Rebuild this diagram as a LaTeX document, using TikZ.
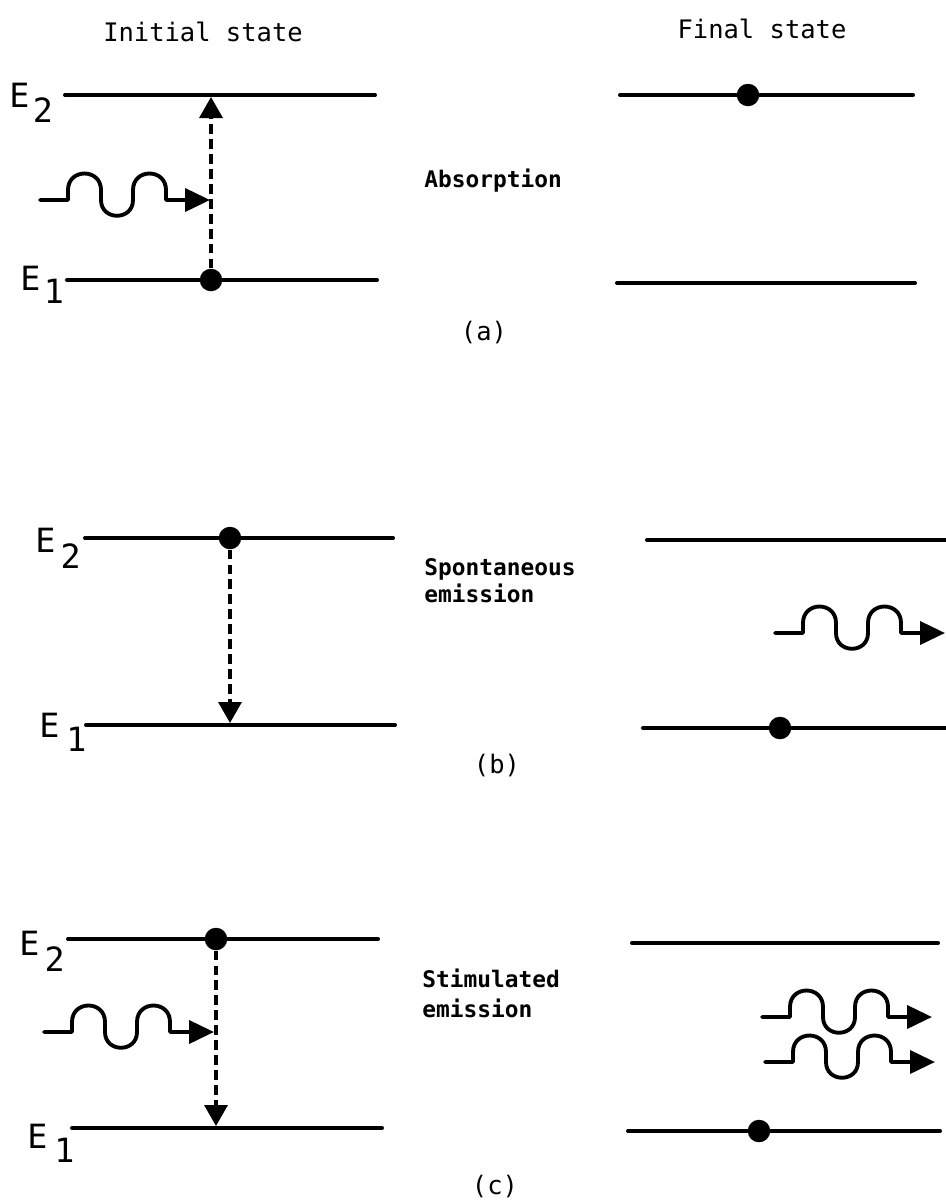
\documentclass[tikz,border=0pt]{standalone}
\usepackage{fontspec}
\newfontfamily\dvmono{DejaVu Sans Mono}
\usetikzlibrary{arrows.meta}
\tikzset{
  level/.style={line width=2.3pt, line cap=round},
  dot/.style={circle, fill=black, inner sep=0pt, minimum size=0.45cm},
  dasharrow/.style={line width=1.9pt, dash pattern=on 5.5pt off 3pt, -{Triangle[length=0.42cm,width=0.46cm]}},
  wave/.style={line width=2.2pt, line join=round, line cap=round, -{Triangle[length=0.5cm,width=0.46cm]}},
  head/.style={font=\dvmono\fontsize{14.5}{17}\selectfont, inner sep=0pt},
  proc/.style={font=\dvmono\bfseries\fontsize{13}{15}\selectfont, inner sep=0pt, align=left},
  tag/.style={font=\dvmono\fontsize{14.5}{17}\selectfont, inner sep=0pt},
  elab/.style={font=\dvmono\fontsize{19}{21}\selectfont, inner sep=0pt, anchor=base west},
  photon/.pic={
    \draw[wave] (0,0) -- (28,0) -- (28,10) .. controls (28,32) and (61,32) .. (61,10) -- (61,0)
      .. controls (61,-21) and (93,-21) .. (93,0) -- (93,10)
      .. controls (93,32) and (126,32) .. (126,10) -- (126,0) -- (170,0);
  }
}
\begin{document}
\begin{tikzpicture}[x=0.02cm, y=0.02cm]
\useasboundingbox[fill=white] (0,0) rectangle (946,-1201);

% headers
\node[head, anchor=base] (hi) at (203,-41) {Initial state};
\node[head, anchor=base] (hf) at (762,-38) {Final state};

% ---------- (a) Absorption ----------
\draw[level] (65,-95) -- (375,-95);
\draw[level] (67,-280) -- (377,-280);
\node[elab] (aE2) at (9,-107) {E\hspace{2pt}\raisebox{-0.45em}{2}};
\node[elab] (aE1) at (20,-290) {E\hspace{2pt}\raisebox{-0.4em}{1}};
\node[dot] (a1) at (211,-280) {};
\coordinate (a2) at (211,-97);
\draw[dasharrow] (a1) -- (a2);
\pic (pa) at (40,-200) {photon};
\node[proc, anchor=base west] (ta) at (424,-187) {Absorption};
\node[tag] (la) at (484,-333) {(a)};
\draw[level] (620,-95) -- (913,-95);
\draw[level] (617,-283) -- (915,-283);
\node[dot] (af) at (748,-95) {};

% ---------- (b) Spontaneous emission ----------
\draw[level] (85,-538) -- (393,-538);
\draw[level] (86,-725) -- (395,-725);
\node[elab] (bE2) at (35,-552) {E\hspace{3pt}\raisebox{-0.48em}{2}};
\node[elab] (bE1) at (39,-737) {E\hspace{4pt}\raisebox{-0.42em}{1}};
\node[dot] (b1) at (230,-538) {};
\coordinate (b2) at (230,-723);
\draw[dasharrow] (b1) -- (b2);
\node[proc, anchor=base west] (tb) at (424,-602) {Spontaneous\\emission};
\node[tag] (lb) at (497,-765) {(b)};
\draw[level] (647,-540) -- (950,-540);
\draw[level] (643,-728) -- (950,-728);
\node[dot] (bf) at (780,-728) {};
\pic (pb) at (775,-633) {photon};

% ---------- (c) Stimulated emission ----------
\draw[level] (68,-939) -- (378,-939);
\draw[level] (72,-1128) -- (382,-1128);
\node[elab] (cE2) at (19,-955) {E\hspace{3pt}\raisebox{-0.48em}{2}};
\node[elab] (cE1) at (27,-1148) {E\hspace{4pt}\raisebox{-0.42em}{1}};
\node[dot] (c1) at (216,-939) {};
\coordinate (c2) at (216,-1126);
\draw[dasharrow] (c1) -- (c2);
\pic (pc) at (44,-1032) {photon};
\node[proc, anchor=base west] (tc) at (422,-1017) {Stimulated\\[2pt]emission};
\node[tag] (lc) at (495,-1186) {(c)};
\draw[level] (632,-943) -- (938,-943);
\draw[level] (628,-1131) -- (940,-1131);
\node[dot] (cf) at (759,-1131) {};
\pic (pc1) at (762,-1017) {photon};
\pic (pc2) at (765,-1062) {photon};
\end{tikzpicture}
\end{document}
